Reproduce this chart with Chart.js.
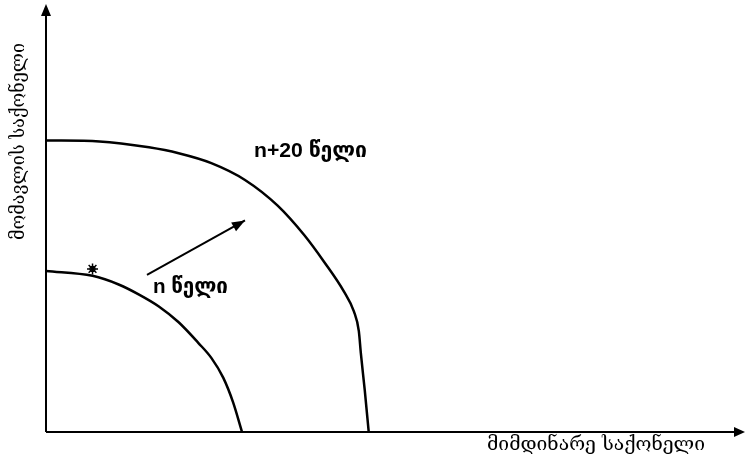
<!DOCTYPE html>
<html>
<head>
<meta charset="utf-8">
<script src="https://cdn.jsdelivr.net/npm/chart.js@4.4.1/dist/chart.umd.min.js"></script>
<style>
  html, body { margin: 0; padding: 0; background: #fff; }
  #wrap { width: 745px; height: 461px; }
</style>
</head>
<body>
<div id="wrap"><canvas id="ppf"></canvas></div>
<script>
// values (units: distance from the origin)
var outerX = [0, 54, 104, 134, 167, 201, 234, 261, 281, 301, 311, 316, 318, 322, 326];
var outerY = [295, 294, 288, 282, 272, 255, 229, 199, 172, 142, 122, 102, 80, 42, 0];
var innerX = [0, 47, 74, 94, 114, 134, 154, 167, 179, 189, 198];
var innerY = [163, 158, 149, 139, 127, 111, 90, 75, 55, 30, 0];
var arrowX = [102, 201];
var arrowY = [159, 214];
var starPoint = [47, 165];

var xLabel = 'მიმდინარე საქონელი';
var yLabel = 'მომავლის საქონელი';
var outerLabel = 'n+20 წელი';
var innerLabel = 'n წელი';

function toPts(xs, ys) {
  return xs.map(function (x, i) { return { x: x, y: ys[i] }; });
}

function arrowHead(ctx, x0, y0, x1, y1, len, wid) {
  var a = Math.atan2(y1 - y0, x1 - x0);
  ctx.beginPath();
  ctx.moveTo(x1, y1);
  ctx.lineTo(x1 - len * Math.cos(a) + wid * Math.sin(a), y1 - len * Math.sin(a) - wid * Math.cos(a));
  ctx.lineTo(x1 - len * Math.cos(a) - wid * Math.sin(a), y1 - len * Math.sin(a) + wid * Math.cos(a));
  ctx.closePath();
  ctx.fill();
}

// text squeezed/stretched to the width it takes in the picture
function fitText(ctx, txt, x, y, w, sy) {
  var m = ctx.measureText(txt).width;
  ctx.save();
  ctx.translate(x, y);
  ctx.scale(w / m, sy || 1);
  ctx.fillText(txt, 0, 0);
  ctx.restore();
}

var decor = {
  id: 'decor',
  afterDatasetsDraw: function (chart) {
    var ctx = chart.ctx;
    var xs = chart.scales.x, ys = chart.scales.y;
    var ox = xs.getPixelForValue(0), oy = ys.getPixelForValue(0);
    ctx.save();
    ctx.strokeStyle = '#000';
    ctx.fillStyle = '#000';
    ctx.lineWidth = 2;
    // axes
    ctx.beginPath();
    ctx.moveTo(ox, oy);
    ctx.lineTo(ox, 14);
    ctx.moveTo(ox, oy);
    ctx.lineTo(736, oy);
    ctx.stroke();
    arrowHead(ctx, ox, oy, ox, 4, 12, 5);
    arrowHead(ctx, ox, oy, 745, oy, 11, 5);
    // growth arrow head
    var ax0 = xs.getPixelForValue(arrowX[0]), ay0 = ys.getPixelForValue(arrowY[0]);
    var ax1 = xs.getPixelForValue(arrowX[1]), ay1 = ys.getPixelForValue(arrowY[1]);
    arrowHead(ctx, ax0, ay0, ax1, ay1, 13, 5);
    // curve labels
    ctx.font = 'bold 19px "Liberation Sans", "DejaVu Sans", sans-serif';
    ctx.textBaseline = 'middle';
    ctx.textAlign = 'left';
    fitText(ctx, outerLabel, 254, 151, 113, 1.1);
    fitText(ctx, innerLabel, 153, 287, 75, 1.1);
    // axis titles
    ctx.font = '17px "DejaVu Serif", serif';
    ctx.textAlign = 'left';
    fitText(ctx, xLabel, 487, 445, 218, 1.1);
    ctx.translate(19, 240);
    ctx.rotate(-Math.PI / 2);
    fitText(ctx, yLabel, 0, 0, 197, 1.1);
    ctx.restore();
  }
};

new Chart(document.getElementById('ppf'), {
  type: 'scatter',
  data: {
    datasets: [
      {
        data: toPts(outerX, outerY),
        showLine: true,
        borderColor: '#000',
        borderWidth: 2.5,
        pointRadius: 0,
        tension: 0.4,
        cubicInterpolationMode: 'monotone'
      },
      {
        data: toPts(innerX, innerY),
        showLine: true,
        borderColor: '#000',
        borderWidth: 2.5,
        pointRadius: 0,
        tension: 0.4,
        cubicInterpolationMode: 'monotone'
      },
      {
        data: toPts(arrowX, arrowY),
        showLine: true,
        borderColor: '#000',
        borderWidth: 2,
        pointRadius: 0
      },
      {
        data: [{ x: starPoint[0], y: starPoint[1] }],
        pointStyle: 'star',
        pointRadius: 5.5,
        borderColor: '#000',
        borderWidth: 1.5,
        backgroundColor: '#000'
      },
      {
        data: [{ x: starPoint[0], y: starPoint[1] }],
        pointStyle: 'circle',
        pointRadius: 2.5,
        borderColor: '#000',
        borderWidth: 1.2,
        backgroundColor: '#fff'
      }
    ]
  },
  options: {
    responsive: true,
    maintainAspectRatio: false,
    animation: false,
    layout: { padding: { left: 46, right: 0, top: 2, bottom: 29 } },
    plugins: {
      legend: { display: false },
      tooltip: { enabled: false },
      title: { display: false }
    },
    scales: {
      x: { type: 'linear', min: 0, max: 699, display: false },
      y: { type: 'linear', min: 0, max: 430, display: false }
    }
  },
  plugins: [decor]
});
</script>
</body>
</html>
